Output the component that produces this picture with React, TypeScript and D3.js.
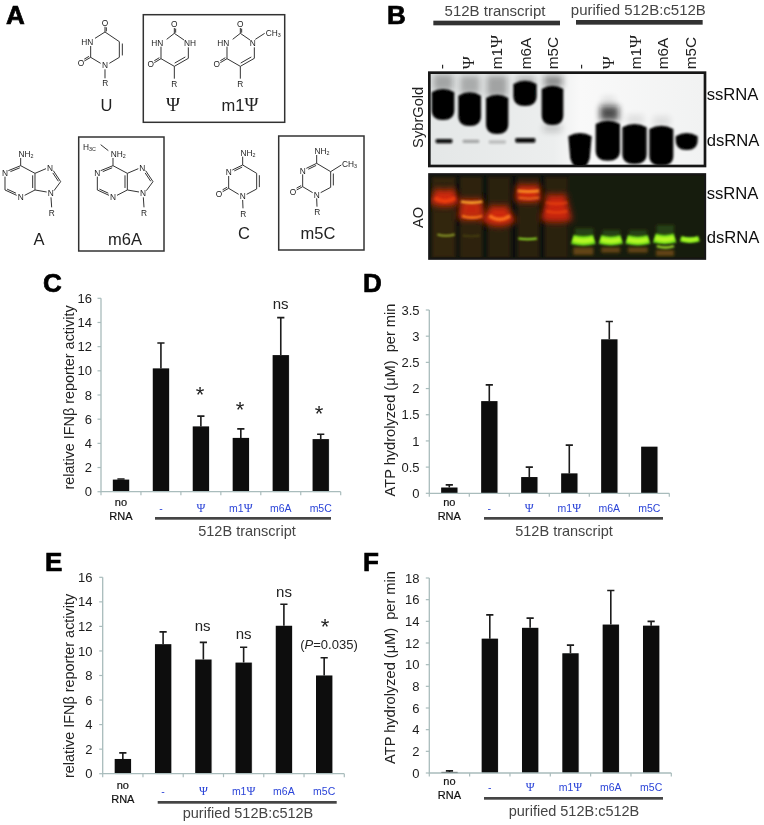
import React from "react";
import * as d3 from "d3";

const FONT = "'Liberation Sans', Arial, sans-serif";
const SERIF = "'Liberation Serif', 'DejaVu Serif', serif";
const categories = ["no RNA", "-", "Ψ", "m1Ψ", "m6A", "m5C"];

const cValues = [1.0, 10.2, 5.4, 4.45, 11.3, 4.35];
const cTops = [1.05, 12.3, 6.25, 5.2, 14.4, 4.75];
const cTicks = [0, 2, 4, 6, 8, 10, 12, 14, 16];

const dValues = [0.11, 1.76, 0.31, 0.38, 2.94, 0.89];
const dTops = [0.16, 2.07, 0.5, 0.92, 3.28, 0.89];
const dTicks = [0, 0.5, 1, 1.5, 2, 2.5, 3, 3.5];

const eValues = [1.2, 10.55, 9.3, 9.05, 12.05, 8.0];
const eTops = [1.7, 11.55, 10.7, 10.3, 13.8, 9.45];
const eTicks = [0, 2, 4, 6, 8, 10, 12, 14, 16];

const fValues = [0.1, 12.4, 13.4, 11.05, 13.7, 13.6];
const fTops = [0.2, 14.6, 14.3, 11.8, 16.85, 14.0];
const fTicks = [0, 2, 4, 6, 8, 10, 12, 14, 16, 18];

const laneLabels = ["-", "Ψ", "m1Ψ", "m6A", "m5C", "-", "Ψ", "m1Ψ", "m6A", "m5C"];
const laneX = [187, 268, 352, 437, 520, 603, 688, 768, 850, 932];

// gel blobs: x0, x1, y0, y1, bottom inset (in 3x crop units)
const sybrBlobs = [
  [155, 223, 265, 360, 0], [235, 303, 275, 378, 0], [318, 385, 282, 402, 0], [400, 470, 240, 318, 0], [485, 550, 255, 375, 0],
  [565, 635, 397, 505, 14], [647, 720, 360, 482, 0], [727, 800, 370, 492, 0], [808, 880, 375, 497, 0], [887, 953, 397, 450, 0],
];
const sybrFaint = [
  [160, 220, 222, 272, 0.3], [240, 300, 226, 282, 0.28], [320, 382, 226, 290, 0.32], [410, 465, 232, 250, 0.35], [492, 548, 226, 262, 0.42],
  [660, 716, 318, 362, 0.72], [665, 705, 290, 322, 0.1], [490, 545, 375, 395, 0.2], [740, 790, 345, 372, 0.1], [820, 870, 350, 378, 0.1],
];
const sybrThin = [
  [167, 217, 417, 430, 1], [248, 298, 419, 429, 0.3], [326, 378, 421, 431, 0.2], [406, 466, 414, 428, 1],
];
const aoColumns = [
  [155, 227, 0.6], [240, 307, 0.55], [323, 392, 0.5], [412, 478, 0.5], [495, 564, 0.5],
];
// x0, x1, ymid, thickness, sag, colour, opacity
const aoBands: [number, number, number, number, number, string, number][] = [
  [158, 230, 592, 48, 10, "#d92c0c", 0.95], [165, 225, 600, 12, 12, "#f2420f", 0.8],
  [238, 310, 628, 62, 4, "#cc290b", 0.95], [243, 307, 607, 7, 4, "#ffb02e", 1], [246, 307, 651, 8, 6, "#ff7a1e", 0.95],
  [320, 393, 645, 58, 14, "#d92c0c", 0.95], [328, 390, 654, 11, 14, "#ff7a20", 0.85],
  [408, 481, 580, 50, 3, "#d92c0c", 0.95], [413, 477, 574, 8, 3, "#ff9a28", 0.9], [416, 477, 595, 6, 3, "#ff7a20", 0.8],
  [492, 566, 624, 82, 6, "#d2280b", 0.95], [498, 562, 610, 8, 5, "#f04a14", 0.6], [498, 562, 636, 8, 5, "#f04a14", 0.6],
];
const aoThin: [number, number, number, number, number, string, number][] = [
  [172, 224, 706, 6, 5, "#8f9f2a", 1], [248, 300, 708, 4, 3, "#6a6a20", 0.5], [415, 471, 717, 6, 3, "#8fe02a", 1],
];
const aoGreen = [
  [577, 643, 721, 29, 6], [660, 725, 721, 27, 6], [740, 807, 721, 27, 6], [823, 885, 717, 28, 6], [902, 957, 719, 17, 5],
];
const aoSecond = [[830, 882, 741]];
const aoBelow = [[580, 640, 742, 765], [664, 720, 742, 758], [744, 803, 742, 758], [828, 882, 750, 768]];
const aoAbove = [[585, 640, 685, 712], [668, 720, 690, 712], [748, 800, 690, 712], [830, 882, 675, 708]];

const psi = (t: string, scale = 1.15) =>
  t.split(/(Ψ)/).map((s, i) => (s === "Ψ" ? <tspan key={i} fontFamily={SERIF} fontSize={`${scale}em`}>{s}</tspan> : <tspan key={i}>{s}</tspan>));

type PanelProps = {
  values: number[]; tops: number[]; ticks: number[]; domainMax: number;
  x0: number; x1: number; y0: number; yTop: number; tickRight: number;
  title: string; titleX: number; titleY: number; titleSize: number;
  blueBase: number; noY1: number; noY2: number;
  barX0: number; barX1: number; barY: number;
  group: string; groupX: number; groupY: number;
};

function Panel(p: PanelProps) {
  const y = d3.scaleLinear().domain([0, p.domainMax]).range([p.y0, p.yTop]);
  const x = d3.scaleBand<string>().domain(categories).range([p.x0, p.x1]);
  const bw = 16.3;
  const axis = "#a9bcbc";
  return (
    <g fontFamily={FONT}>
      {categories.map((c, i) => {
        const cx = x(c)! + x.bandwidth() / 2;
        return (
          <g key={c}>
            <rect x={cx - bw / 2 + 0.7} y={y(p.values[i])} width={bw} height={p.y0 - y(p.values[i]) + 0.6} fill="#c4c8c8" opacity={0.55} />
            {p.tops[i] > p.values[i] && (
              <path d={`M${cx},${y(p.values[i])}V${y(p.tops[i])}M${cx - 3.6},${y(p.tops[i])}H${cx + 3.6}`} stroke="#1a1a1a" strokeWidth={1.6} fill="none" />
            )}
            <rect x={cx - bw / 2} y={y(p.values[i])} width={bw} height={p.y0 - y(p.values[i])} fill="#0b0b0b" />
          </g>
        );
      })}
      <path d={`M${p.x0},${p.yTop}V${p.y0}H${p.x1}`} stroke={axis} strokeWidth={1.3} fill="none" />
      {p.ticks.map((t) => (
        <g key={t}>
          <line x1={p.x0 - 3.5} x2={p.x0} y1={y(t)} y2={y(t)} stroke={axis} strokeWidth={1.2} />
          <text x={p.tickRight} y={y(t) + 4.6} textAnchor="end" fontSize={13} fill="#1c1c1c">{t}</text>
        </g>
      ))}
      {d3.range(7).map((i) => (
        <line key={i} x1={p.x0 + i * x.step()} x2={p.x0 + i * x.step()} y1={p.y0} y2={p.y0 + 3.5} stroke={axis} strokeWidth={1.2} />
      ))}
      <text x={x("no RNA")! + x.bandwidth() / 2} y={p.noY1} textAnchor="middle" fontSize={11} fill="#111" stroke="#111" strokeWidth={0.2}>no</text>
      <text x={x("no RNA")! + x.bandwidth() / 2} y={p.noY2} textAnchor="middle" fontSize={11} fill="#111" stroke="#111" strokeWidth={0.2}>RNA</text>
      {categories.slice(1).map((c) => (
        <text key={c} x={x(c)! + x.bandwidth() / 2} y={p.blueBase} textAnchor="middle" fontSize={10.5} fill="#2b44d8">{psi(c)}</text>
      ))}
      <rect x={p.barX0} y={p.barY} width={p.barX1 - p.barX0} height={2.7} fill="#444" />
      <text x={p.groupX} y={p.groupY} textAnchor="middle" fontSize={14.5} fill="#444">{p.group}</text>
      <text transform={`translate(${p.titleX},${p.titleY}) rotate(-90)`} textAnchor="middle" fontSize={p.titleSize} fill="#222">{p.title}</text>
    </g>
  );
}

type V = [number, number];
const Bond = ({ a, b, dbl }: { a: V; b: V; dbl?: number }) => {
  const dx = b[0] - a[0], dy = b[1] - a[1], l = Math.hypot(dx, dy);
  const nx = (-dy / l) * (dbl ?? 0), ny = (dx / l) * (dbl ?? 0);
  return (
    <g>
      <line x1={a[0]} y1={a[1]} x2={b[0]} y2={b[1]} />
      {dbl ? <line x1={a[0] + nx + dx * 0.12} y1={a[1] + ny + dy * 0.12} x2={b[0] + nx - dx * 0.12} y2={b[1] + ny - dy * 0.12} /> : null}
    </g>
  );
};
const Atom = ({ x, y, t, anchor }: { x: number; y: number; t: string; anchor?: string }) => (
  <text x={x} y={y + 9} textAnchor={anchor ?? "middle"} fontSize={25} fill="#222" stroke="none">
    {t.split("_").map((s, i) => (i % 2 ? <tspan key={i} fontSize={16} dy={4}>{s}</tspan> : <tspan key={i} dy={i ? -4 : 0}>{s}</tspan>))}
  </text>
);

function Uracil() {
  const T: V = [315, 96], UR: V = [358, 125], LR: V = [358, 172], LL: V = [272, 172];
  return (
    <g>
      <Bond a={T} b={UR} /><Bond a={UR} b={LR} dbl={-9} /><Bond a={LR} b={[328, 190]} />
      <Bond a={[302, 190]} b={LL} /><Bond a={LL} b={[272, 138]} /><Bond a={[285, 115]} b={T} />
      <Bond a={T} b={[315, 80]} dbl={4} /><Bond a={LL} b={[253, 183]} dbl={5} /><Bond a={[315, 208]} b={[315, 235]} />
      <Atom x={315} y={68} t="O" /><Atom x={262} y={125} t="HN" /><Atom x={243} y={189} t="O" /><Atom x={315} y={196} t="N" /><Atom x={316} y={250} t="R" />
    </g>
  );
}
function Pseudo({ dx, methyl }: { dx: number; methyl?: boolean }) {
  const T: V = [523, 100], LL: V = [483, 176], B: V = [523, 199], LR: V = [565, 175];
  return (
    <g transform={`translate(${dx},0)`}>
      <Bond a={T} b={[500, 118]} /><Bond a={[483, 140]} b={LL} /><Bond a={LL} b={B} /><Bond a={B} b={LR} dbl={-8} /><Bond a={LR} b={[565, 142]} /><Bond a={[552, 120]} b={T} />
      <Bond a={T} b={[523, 84]} dbl={4} /><Bond a={LL} b={[463, 188]} dbl={5} /><Bond a={B} b={[523, 236]} />
      <Atom x={523} y={71} t="O" /><Atom x={472} y={128} t="HN" /><Atom x={452} y={192} t="O" /><Atom x={523} y={251} t="R" />
      {methyl ? (
        <g><Atom x={560} y={128} t="N" /><Bond a={[568, 118]} b={[596, 100]} /><Atom x={599} y={99} t="CH_3" anchor="start" /></g>
      ) : <Atom x={570} y={128} t="NH" />}
    </g>
  );
}
function Purine({ dx, methyl }: { dx: number; methyl?: boolean }) {
  const C6: V = [62, 497], C2: V = [15, 570], C4: V = [105, 570], C5: V = [105, 520], C8: V = [182, 545];
  return (
    <g transform={`translate(${dx},0)`}>
      <Bond a={C6} b={[25, 512]} dbl={-5} /><Bond a={[15, 530]} b={C2} /><Bond a={C2} b={[50, 586]} dbl={-5} /><Bond a={[74, 586]} b={C4} />
      <Bond a={C4} b={C5} dbl={-7} /><Bond a={C5} b={C6} /><Bond a={C5} b={[138, 506]} /><Bond a={[160, 512]} b={C8} dbl={5} />
      <Bond a={C8} b={[162, 572]} /><Bond a={[140, 576]} b={C4} /><Bond a={C6} b={[62, 474]} /><Bond a={[153, 592]} b={[155, 622]} />
      <Atom x={15} y={520} t="N" /><Atom x={62} y={592} t="N" /><Atom x={150} y={503} t="N" /><Atom x={152} y={580} t="N" />
      <Atom x={78} y={461} t="NH_2" /><Atom x={155} y={640} t="R" />
      {methyl ? (
        <g><Atom x={-28} y={440} t="H_3C" anchor="start" /><Bond a={[25, 434]} b={[48, 452]} /></g>
      ) : null}
    </g>
  );
}
function Cytosine({ dx, dy, methyl }: { dx: number; dy: number; methyl?: boolean }) {
  const T: V = [728, 495], UR: V = [770, 520], LR: V = [770, 567], LL: V = [686, 565];
  return (
    <g transform={`translate(${dx},${dy})`}>
      <Bond a={T} b={UR} /><Bond a={UR} b={LR} dbl={-8} /><Bond a={LR} b={[740, 583]} /><Bond a={[716, 583]} b={LL} />
      <Bond a={LL} b={[686, 528]} /><Bond a={[697, 510]} b={T} dbl={5} /><Bond a={T} b={[728, 470]} /><Bond a={LL} b={[668, 575]} dbl={5} /><Bond a={[728, 600]} b={[729, 625]} />
      <Atom x={686} y={517} t="N" /><Atom x={657} y={581} t="O" /><Atom x={728} y={589} t="N" /><Atom x={730} y={641} t="R" /><Atom x={744} y={458} t="NH_2" />
      {methyl ? <g><Bond a={UR} b={[802, 500]} /><Atom x={804} y={497} t="CH_3" anchor="start" /></g> : null}
    </g>
  );
}

const blobPath = (x0: number, x1: number, y0: number, y1: number, inset: number) => {
  const cx = (x0 + x1) / 2;
  return `M${x0},${y0 + 12}Q${cx},${y0 - 8} ${x1},${y0 + 12}L${x1 - inset * 0.4},${y1 - 30}Q${x1 - inset},${y1} ${cx},${y1}Q${x0 + inset},${y1} ${x0 + inset * 0.4},${y1 - 30}Z`;
};
const smile = (x0: number, x1: number, y: number, sag: number) => `M${x0},${y - sag / 2}Q${(x0 + x1) / 2},${y + sag * 1.1} ${x1},${y - sag / 2}`;

const Blur = ({ id, s }: { id: string; s: number }) => (
  <filter id={id} filterUnits="userSpaceOnUse" x={100} y={180} width={950} height={640}><feGaussianBlur stdDeviation={s} /></filter>
);

const Gel = () => (
  <g transform="translate(380,0) scale(0.33333)" fontFamily={FONT}>
    <defs>
      <Blur id="b8" s={9} />
      <Blur id="b5" s={4.5} />
      <Blur id="b3" s={2.4} />
      <linearGradient id="gelbg" x1="0" x2="1" y1="0" y2="0">
        <stop offset="0" stopColor="#e4e7e7" /><stop offset="0.45" stopColor="#eceeee" /><stop offset="0.55" stopColor="#f9f9f9" /><stop offset="1" stopColor="#f1f2f2" />
      </linearGradient>
      <clipPath id="g1"><rect x={148} y={218} width={827} height={280} /></clipPath>
      <clipPath id="g2"><rect x={148} y={523} width={827} height={253} /></clipPath>
    </defs>
    <rect x={148} y={218} width={827} height={280} fill="url(#gelbg)" />
    <g clipPath="url(#g1)">
      {sybrFaint.map((b, i) => <rect key={i} x={b[0]} y={b[2]} width={b[1] - b[0]} height={b[3] - b[2]} fill="#111" opacity={b[4]} filter="url(#b8)" />)}
      {sybrBlobs.map((b, i) => <path key={i} d={blobPath(b[0], b[1], b[2], b[3], b[4])} fill="#040606" filter="url(#b3)" />)}
      {sybrThin.map((b, i) => <rect key={i} x={b[0]} y={b[2]} width={b[1] - b[0]} height={b[3] - b[2]} rx={4} fill="#0a0a0a" opacity={b[4]} filter="url(#b3)" />)}
    </g>
    <rect x={148} y={218} width={827} height={280} fill="none" stroke="#141414" strokeWidth={8} />
    <rect x={148} y={523} width={827} height={253} fill="#10120a" />
    <g clipPath="url(#g2)">
      <rect x={565} y={525} width={410} height={249} fill="#1c2010" opacity={0.8} />
      {aoColumns.map((b, i) => <rect key={i} x={b[0]} y={530} width={b[1] - b[0]} height={245} fill="#46300f" opacity={b[2]} filter="url(#b5)" />)}
      {aoBands.map((b, i) => (
        <path key={i} d={smile(b[0], b[1], b[2], b[4])} fill="none" stroke={b[5]} strokeWidth={b[3]} opacity={b[6]} filter={b[3] > 20 ? "url(#b8)" : "url(#b3)"} />
      ))}
      {aoThin.map((b, i) => (
        <path key={i} d={smile(b[0], b[1], b[2], b[4])} fill="none" stroke={b[5]} strokeWidth={b[3]} opacity={b[6]} filter="url(#b3)" />
      ))}
      {aoAbove.map((b, i) => <rect key={i} x={b[0]} y={b[2]} width={b[1] - b[0]} height={b[3] - b[2]} fill="#2f5a12" opacity={0.6} filter="url(#b5)" />)}
      {aoBelow.map((b, i) => <rect key={i} x={b[0]} y={b[2]} width={b[1] - b[0]} height={b[3] - b[2]} fill="#8a5a16" opacity={0.65} filter="url(#b5)" />)}
      {aoGreen.map((b, i) => (
        <g key={i}>
          <path d={smile(b[0], b[1], b[2], b[4])} fill="none" stroke="#66d016" strokeWidth={b[3]} filter="url(#b3)" />
          <path d={smile(b[0] + 3, b[1] - 3, b[2], b[4])} fill="none" stroke="#b4f828" strokeWidth={b[3] * 0.55} filter="url(#b3)" />
        </g>
      ))}
      {aoSecond.map((b, i) => <path key={i} d={smile(b[0], b[1], b[2], 5)} fill="none" stroke="#a0e02a" strokeWidth={7} filter="url(#b3)" />)}
    </g>
    <rect x={148} y={523} width={827} height={253} fill="none" stroke="#141414" strokeWidth={7} />
    <text x={345} y={47} textAnchor="middle" fontSize={45} fill="#444">512B transcript</text>
    <rect x={160} y={62} width={380} height={14} fill="#333" />
    <text x={775} y={44} textAnchor="middle" fontSize={45} fill="#444">purified 512B:c512B</text>
    <rect x={588} y={60} width={380} height={14} fill="#333" />
    {laneLabels.map((l, i) => (
      <text key={i} transform={`translate(${laneX[i] + 15},208) rotate(-90)`} fontSize={46} fill="#222">{psi(l)}</text>
    ))}
    <text x={980} y={300} fontSize={50} fill="#111">ssRNA</text>
    <text x={980} y={437} fontSize={50} fill="#111">dsRNA</text>
    <text x={980} y={598} fontSize={50} fill="#111">ssRNA</text>
    <text x={980} y={730} fontSize={50} fill="#111">dsRNA</text>
    <text transform="translate(130,352) rotate(-90)" textAnchor="middle" fontSize={44} fill="#222">SybrGold</text>
    <text transform="translate(130,652) rotate(-90)" textAnchor="middle" fontSize={44} fill="#222">AO</text>
  </g>
);

const Letter = ({ x, y, t }: { x: number; y: number; t: string }) => (
  <text x={x} y={y} fontFamily={FONT} fontWeight="bold" fontSize={26} stroke="#000" strokeWidth={0.7} fill="#000">{t}</text>
);
const Big = ({ x, y, t }: { x: number; y: number; t: string }) => (
  <text x={x} y={y} fontFamily={FONT} fontSize={16.5} textAnchor="middle" fill="#222">{psi(t)}</text>
);
const Note = ({ x, y, t, s = 14 }: { x: number; y: number; t: string; s?: number }) => (
  <text x={x} y={y} fontFamily={FONT} fontSize={s} textAnchor="middle" fill="#222">{t}</text>
);

export default function App() {
  return (
    <svg width={764} height={825} viewBox="0 0 764 825" style={{ position: "absolute", left: 0, top: 0, background: "#fff" }}>
      <defs><filter id="soft" x="0" y="0" width="100%" height="100%"><feGaussianBlur stdDeviation="0.4" /></filter></defs>
      <g filter="url(#soft)">
        <rect x={0} y={0} width={764} height={825} fill="#fff" />
        <Letter x={6} y={24} t="A" /><Letter x={387} y={24} t="B" /><Letter x={43} y={292} t="C" /><Letter x={363} y={292} t="D" /><Letter x={45} y={571} t="E" /><Letter x={363} y={571} t="F" />
        <g fill="none" stroke="#333" strokeWidth={1.5}>
          <rect x={143.3} y={14.7} width={141.4} height={107.6} />
          <rect x={78.7} y={137} width={85.3} height={114} />
          <rect x={278.7} y={136} width={85.3} height={114} />
        </g>
        <g transform="scale(0.33333)" stroke="#333" strokeWidth={3} fill="none" fontFamily={FONT}>
          <Uracil /><Pseudo dx={0} /><Pseudo dx={198} methyl />
          <Purine dx={0} /><Purine dx={277} methyl />
          <Cytosine dx={0} dy={0} /><Cytosine dx={222} dy={-5} methyl />
        </g>
        <Big x={106.5} y={111} t="U" /><Big x={173} y={111} t="Ψ" /><Big x={240} y={111} t="m1Ψ" />
        <Big x={39} y={245} t="A" /><Big x={125} y={245} t="m6A" /><Big x={244} y={239} t="C" /><Big x={318} y={239} t="m5C" />
        <Gel />
        <Panel values={cValues} tops={cTops} ticks={cTicks} domainMax={16} x0={101} x1={340.7} y0={491.7} yTop={298.3} tickRight={92}
          title="relative IFNβ reporter activity" titleX={74} titleY={397.5} titleSize={14.4} blueBase={511.5} noY1={505.5} noY2={519.5}
          barX0={155} barX1={331} barY={517} group="512B transcript" groupX={247} groupY={536} />
        <Panel values={dValues} tops={dTops} ticks={dTicks} domainMax={3.5} x0={429.3} x1={669.3} y0={493.3} yTop={310} tickRight={419.5}
          title={"ATP hydrolyzed (μM)\u00a0 per min"} titleX={395} titleY={400} titleSize={14.6} blueBase={511.5} noY1={505.5} noY2={519.5}
          barX0={484} barX1={663} barY={517} group="512B transcript" groupX={564} groupY={536} />
        <Panel values={eValues} tops={eTops} ticks={eTicks} domainMax={16} x0={102.7} x1={344.3} y0={773.7} yTop={577.3} tickRight={92.5}
          title="relative IFNβ reporter activity" titleX={74} titleY={686} titleSize={14.4} blueBase={795} noY1={789} noY2={803}
          barX0={157.7} barX1={336.7} barY={801} group="purified 512B:c512B" groupX={248} groupY={818} />
        <Panel values={fValues} tops={fTops} ticks={fTicks} domainMax={18} x0={429.3} x1={671.3} y0={773} yTop={578} tickRight={419.5}
          title={"ATP hydrolyzed (μM)\u00a0 per min"} titleX={395} titleY={667.5} titleSize={14.6} blueBase={791} noY1={785} noY2={799}
          barX0={484} barX1={663} barY={797} group="purified 512B:c512B" groupX={574} groupY={816} />
        <Note x={280.7} y={309} t="ns" s={15} />
        <Note x={200} y={402} t="*" s={22} /><Note x={240} y={417} t="*" s={22} /><Note x={319} y={421} t="*" s={22} />
        <Note x={202.7} y={631} t="ns" s={15} /><Note x={243.7} y={639} t="ns" s={15} /><Note x={284} y={596.7} t="ns" s={15} />
        <Note x={325} y={634} t="*" s={22} />
        <text x={329} y={649} fontFamily={FONT} fontSize={13} textAnchor="middle" fill="#222">(<tspan fontStyle="italic">P</tspan>=0.035)</text>
      </g>
    </svg>
  );
}
